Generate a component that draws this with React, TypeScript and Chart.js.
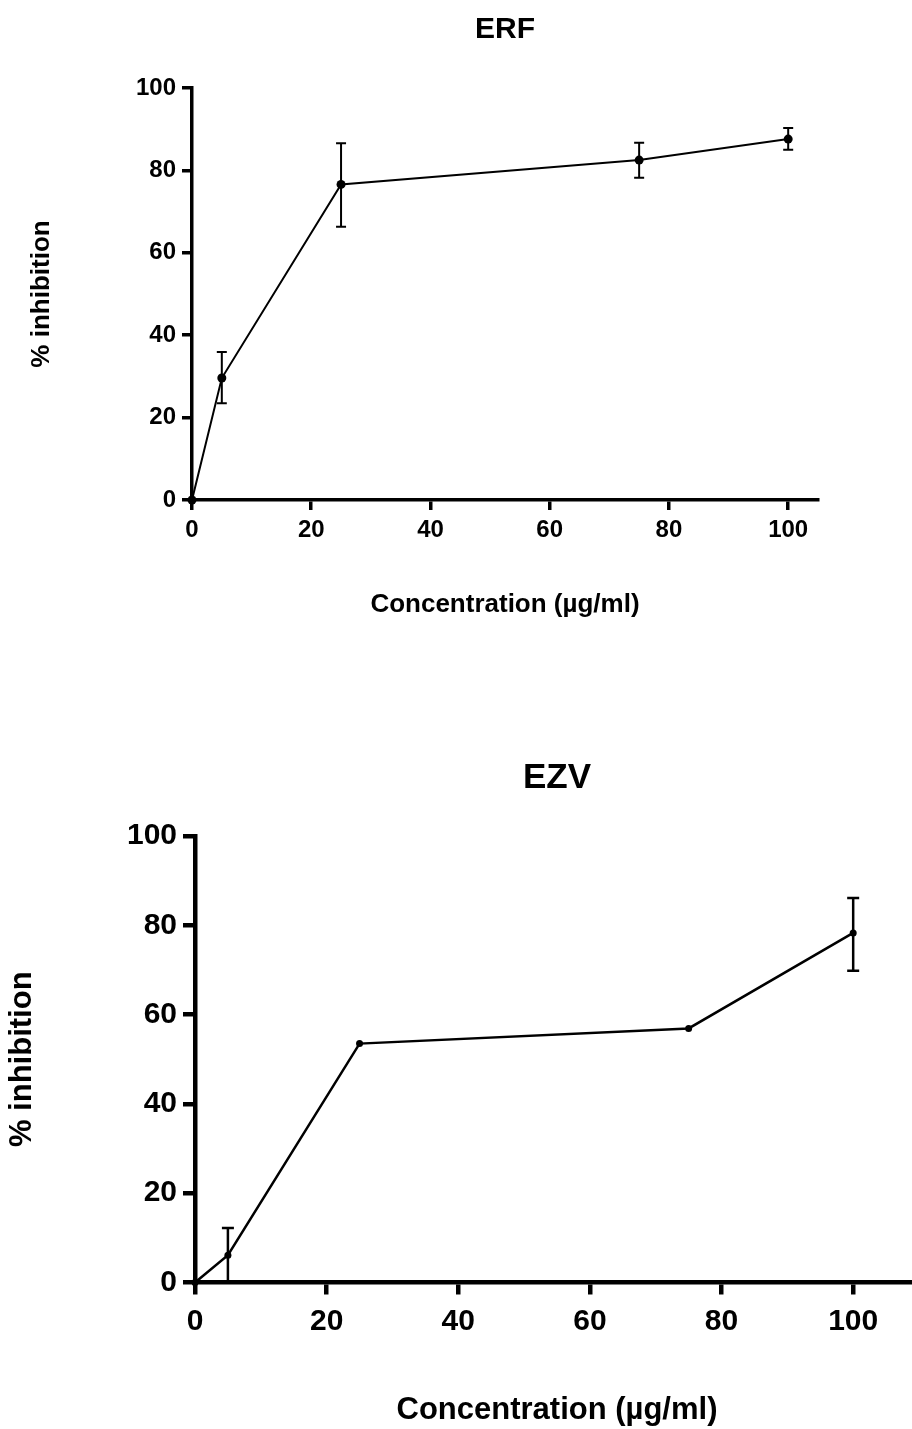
import React, { useEffect, useRef } from "react";
import { Chart, registerables } from "chart.js";

Chart.register(...registerables);

// ---- data ----
const concentrations = [0, 5, 25, 75, 100];
const xTickValues = [0, 20, 40, 60, 80, 100];
const yTickValues = [0, 20, 40, 60, 80, 100];

const erfTitle = "ERF";
const erfMeans = [0, 29.6, 76.6, 82.5, 87.6];
const erfLow: (number | null)[] = [null, 23.5, 66.3, 78.2, 85.0];
const erfHigh: (number | null)[] = [null, 35.9, 86.6, 86.7, 90.3];

const ezvTitle = "EZV";
const ezvMeans = [0, 6.1, 53.5, 56.9, 78.3];
const ezvLow: (number | null)[] = [null, 0, null, null, 69.8];
const ezvHigh: (number | null)[] = [null, 12.2, null, null, 86.1];

const xAxisTitle = "Concentration (µg/ml)";
const yAxisTitle = "% inhibition";

const FONT = "'Liberation Sans', Arial, sans-serif";

type Cfg = {
  title: string;
  means: number[];
  low: (number | null)[];
  high: (number | null)[];
  width: number;
  height: number;
  xMax: number;
  pad: { top: number; right: number; bottom: number };
  yAxisWidth: number;
  xAxisHeight: number;
  titleSize: number;
  titleOffset: number;
  tickSize: number;
  axisTitleSize: number;
  yTitlePad: number;
  xTickPad: number;
  yTickPad: number;
  tickLen: number;
  axisWidth: number;
  lineWidth: number;
  pointRadius: number;
  capWidth: number;
  errWidth: number;
};

function makeErrorPlugin(cfg: Cfg) {
  return {
    id: "errorBars",
    afterDatasetsDraw(chart: any) {
      const { ctx, scales } = chart;
      ctx.save();
      ctx.strokeStyle = "#000";
      ctx.lineWidth = cfg.errWidth;
      concentrations.forEach((c, i) => {
        const lo = cfg.low[i];
        const hi = cfg.high[i];
        if (lo == null || hi == null) return;
        const px = scales.x.getPixelForValue(c);
        const pt = scales.y.getPixelForValue(hi);
        const pb = scales.y.getPixelForValue(lo);
        const h = cfg.capWidth / 2;
        ctx.beginPath();
        ctx.moveTo(px, pt);
        ctx.lineTo(px, pb);
        ctx.moveTo(px - h, pt);
        ctx.lineTo(px + h, pt);
        ctx.moveTo(px - h, pb);
        ctx.lineTo(px + h, pb);
        ctx.stroke();
      });
      ctx.restore();
    },
  };
}

function makeTitlePlugin(cfg: Cfg) {
  return {
    id: "centeredTitle",
    afterDraw(chart: any) {
      const { ctx, chartArea } = chart;
      ctx.save();
      ctx.fillStyle = "#000";
      ctx.font = `bold ${cfg.titleSize}px ${FONT}`;
      ctx.textAlign = "center";
      ctx.textBaseline = "middle";
      ctx.fillText(cfg.title, (chartArea.left + chartArea.right) / 2, chartArea.top - cfg.titleOffset);
      ctx.restore();
    },
  };
}

function Panel({ cfg, top }: { cfg: Cfg; top: number }) {
  const ref = useRef<HTMLCanvasElement | null>(null);
  useEffect(() => {
    if (!ref.current) return;
    const chart = new Chart(ref.current, {
      type: "line",
      data: {
        datasets: [
          {
            data: concentrations.map((c, i) => ({ x: c, y: cfg.means[i] })),
            borderColor: "#000",
            backgroundColor: "#000",
            borderWidth: cfg.lineWidth,
            pointRadius: cfg.pointRadius,
            pointBackgroundColor: "#000",
            pointBorderWidth: 0,
            tension: 0,
            clip: false as any,
          },
        ],
      },
      options: {
        animation: false,
        responsive: false,
        devicePixelRatio: 1,
        layout: { padding: { left: 0, top: cfg.pad.top, right: cfg.pad.right, bottom: cfg.pad.bottom } },
        plugins: { legend: { display: false }, tooltip: { enabled: false }, title: { display: false } },
        scales: {
          x: {
            type: "linear",
            min: 0,
            max: cfg.xMax,
            afterFit: (s: any) => {
              s.height = cfg.xAxisHeight;
            },
            afterBuildTicks: (s: any) => {
              s.ticks = xTickValues.map((v) => ({ value: v }));
            },
            ticks: {
              color: "#000",
              padding: cfg.xTickPad,
              font: { family: FONT, size: cfg.tickSize, weight: "bold" },
              maxRotation: 0,
            },
            grid: {
              display: true,
              drawOnChartArea: false,
              drawTicks: true,
              tickLength: cfg.tickLen,
              color: "#000",
              lineWidth: cfg.axisWidth,
            },
            border: { display: true, color: "#000", width: cfg.axisWidth },
            title: {
              display: true,
              text: xAxisTitle,
              color: "#000",
              font: { family: FONT, size: cfg.axisTitleSize, weight: "bold" },
              padding: { top: 0, bottom: 0 },
            },
          },
          y: {
            type: "linear",
            min: 0,
            max: 100,
            afterFit: (s: any) => {
              s.width = cfg.yAxisWidth;
            },
            afterBuildTicks: (s: any) => {
              s.ticks = yTickValues.map((v) => ({ value: v }));
            },
            ticks: {
              color: "#000",
              padding: cfg.yTickPad,
              font: { family: FONT, size: cfg.tickSize, weight: "bold" },
            },
            grid: {
              display: true,
              drawOnChartArea: false,
              drawTicks: true,
              tickLength: cfg.tickLen,
              color: "#000",
              lineWidth: cfg.axisWidth,
            },
            border: { display: true, color: "#000", width: cfg.axisWidth },
            title: {
              display: true,
              text: yAxisTitle,
              color: "#000",
              font: { family: FONT, size: cfg.axisTitleSize, weight: "bold" },
              padding: { top: cfg.yTitlePad, bottom: 0 },
            },
          },
        },
      } as any,
      plugins: [makeErrorPlugin(cfg), makeTitlePlugin(cfg)],
    });
    return () => chart.destroy();
  }, []);
  return (
    <canvas
      ref={ref}
      width={cfg.width}
      height={cfg.height}
      style={{ position: "absolute", left: 0, top, width: cfg.width, height: cfg.height }}
    />
  );
}

const topCfg: Cfg = {
  title: erfTitle,
  means: erfMeans,
  low: erfLow,
  high: erfHigh,
  width: 912,
  height: 700,
  xMax: 105,
  pad: { top: 88, right: 94, bottom: 79.4 },
  yAxisWidth: 192,
  xAxisHeight: 120.6,
  titleSize: 30,
  titleOffset: 58,
  tickSize: 24,
  axisTitleSize: 26,
  yTitlePad: 26.4,
  xTickPad: 5.6,
  yTickPad: 6,
  tickLen: 10,
  axisWidth: 3.5,
  lineWidth: 2,
  pointRadius: 4.5,
  capWidth: 10,
  errWidth: 2,
};

const bottomCfg: Cfg = {
  title: ezvTitle,
  means: ezvMeans,
  low: ezvLow,
  high: ezvHigh,
  width: 930,
  height: 729,
  xMax: 110,
  pad: { top: 136, right: 11, bottom: 0.4 },
  yAxisWidth: 195,
  xAxisHeight: 146.1,
  titleSize: 35,
  titleOffset: 58,
  tickSize: 30,
  axisTitleSize: 31,
  yTitlePad: 3.4,
  xTickPad: 9,
  yTickPad: 6,
  tickLen: 12,
  axisWidth: 4.5,
  lineWidth: 2.5,
  pointRadius: 3.5,
  capWidth: 12,
  errWidth: 2.5,
};

export default function App() {
  return (
    <div style={{ position: "absolute", left: 0, top: 0, width: 912, height: 1429, overflow: "hidden", background: "#fff" }}>
      <Panel cfg={topCfg} top={0} />
      <Panel cfg={bottomCfg} top={700} />
    </div>
  );
}
